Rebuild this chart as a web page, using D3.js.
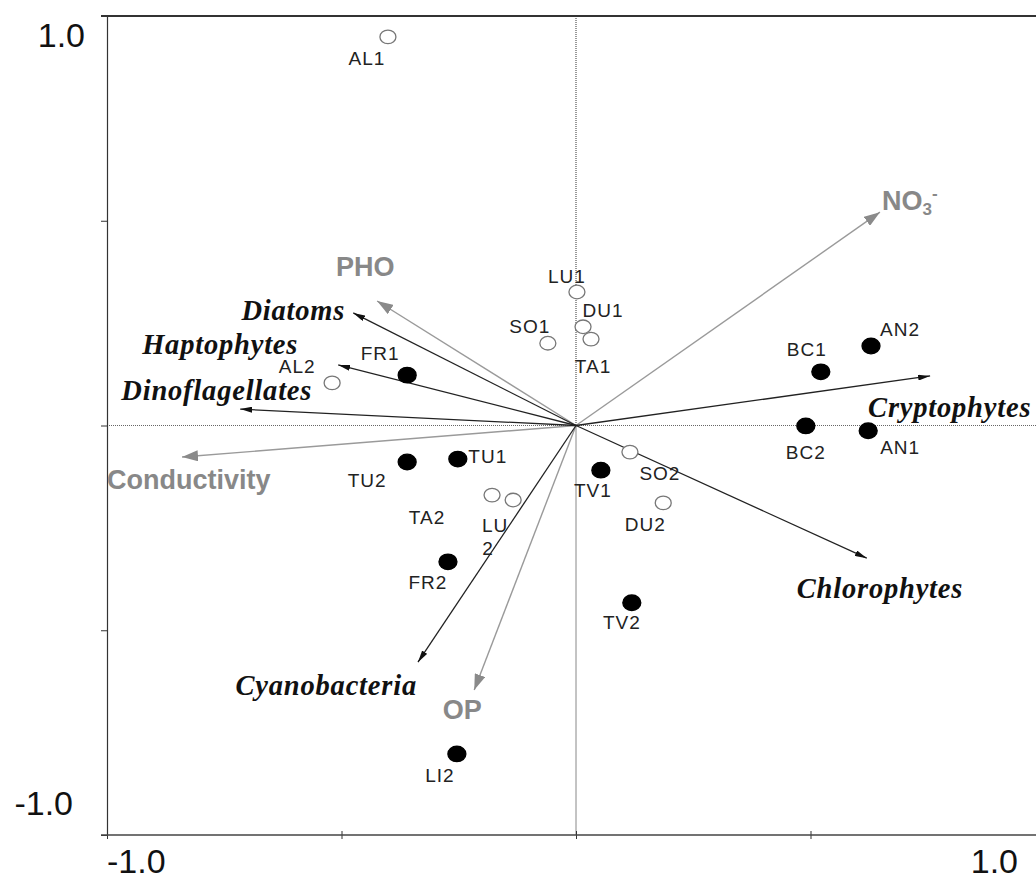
<!DOCTYPE html>
<html>
<head>
<meta charset="utf-8">
<script src="https://cdn.jsdelivr.net/npm/d3@7"></script>
<style>
  body { margin: 0; background: #fff; }
  svg { display: block; }
  .site { font-family: "Liberation Sans", Arial, sans-serif; font-size: 19px; letter-spacing: 1px; fill: #222; }
  .species { font-family: "Liberation Serif", "Times New Roman", serif; font-size: 28.5px; font-weight: bold; font-style: italic; letter-spacing: 0.8px; fill: #111; }
  .env { font-family: "Liberation Sans", Arial, sans-serif; font-size: 27px; font-weight: bold; fill: #888; }
  .tick { font-family: "Liberation Sans", Arial, sans-serif; font-size: 34px; fill: #111; }
</style>
</head>
<body>
<div id="chart"></div>
<script>
// site scores
const siteNames = ["AL1", "LU1", "DU1", "TA1", "SO1", "FR1", "AL2", "BC1", "AN2", "BC2", "AN1",
                   "TU2", "TU1", "TA2", "LU2", "FR2", "TV1", "SO2", "DU2", "TV2", "LI2"];
const siteX = [-0.401, 0.002, 0.015, 0.032, -0.060, -0.360, -0.520, 0.522, 0.629, 0.490, 0.623,
               -0.360, -0.252, -0.179, -0.134, -0.273, 0.053, 0.115, 0.186, 0.119, -0.254];
const siteY = [0.949, 0.326, 0.241, 0.211, 0.201, 0.123, 0.104, 0.131, 0.194, -0.001, -0.013,
               -0.089, -0.082, -0.170, -0.182, -0.333, -0.109, -0.065, -0.189, -0.433, -0.802];
const siteOpen = [true, true, true, true, true, false, true, false, false, false, false,
                  false, false, true, true, false, false, true, true, false, false];

// species arrows
const speciesNames = ["Diatoms", "Haptophytes", "Dinoflagellates", "Cryptophytes", "Chlorophytes", "Cyanobacteria"];
const speciesX = [-0.475, -0.507, -0.716, 0.755, 0.620, -0.337];
const speciesY = [0.275, 0.148, 0.040, 0.121, -0.324, -0.578];

// environmental arrows
const envNames = ["PHO", "NO3", "Conductivity", "OP"];
const envX = [-0.424, 0.648, -0.840, -0.217];
const envY = [0.304, 0.521, -0.077, -0.646];

const xTicks = [-1, -0.5, 0, 0.5, 1];
const yTicks = [-1, -0.5, 0, 0.5, 1];

const W = 1036, H = 879;
const x = d3.scaleLinear().domain([-1, 1]).range([107, 1045]);
const y = d3.scaleLinear().domain([-1, 1]).range([835, 16]);

const svg = d3.select("#chart").append("svg").attr("width", W).attr("height", H);

const defs = svg.append("defs");
defs.append("marker").attr("id", "headBlack")
  .attr("markerUnits", "userSpaceOnUse").attr("viewBox", "0 0 12 6")
  .attr("markerWidth", 12).attr("markerHeight", 6).attr("refX", 12).attr("refY", 3)
  .attr("orient", "auto")
  .append("path").attr("d", "M0,0 L12,3 L0,6 Z").attr("fill", "#111");
defs.append("marker").attr("id", "headGrey")
  .attr("markerUnits", "userSpaceOnUse").attr("viewBox", "0 0 16 11")
  .attr("markerWidth", 16).attr("markerHeight", 11).attr("refX", 16).attr("refY", 5.5)
  .attr("orient", "auto")
  .append("path").attr("d", "M0,0 L16,5.5 L0,11 Z").attr("fill", "#8a8a8a");

// zero lines
svg.append("line").attr("x1", x(-1)).attr("x2", W).attr("y1", y(0)).attr("y2", y(0))
  .attr("stroke", "#666").attr("stroke-width", 1).attr("stroke-dasharray", "1,1");
svg.append("line").attr("x1", x(0)).attr("x2", x(0)).attr("y1", y(1)).attr("y2", y(0))
  .attr("stroke", "#333").attr("stroke-width", 1).attr("stroke-dasharray", "1,1");
svg.append("line").attr("x1", x(0)).attr("x2", x(0)).attr("y1", y(0)).attr("y2", y(-1))
  .attr("stroke", "#888").attr("stroke-width", 1);

// axes
const yAxis = d3.axisLeft(y).tickValues(yTicks).tickSize(6).tickFormat("");
svg.append("g").attr("transform", `translate(${x(-1)},0)`).call(yAxis)
  .call(g => g.select(".domain").attr("stroke", "#333").attr("stroke-width", 1.2))
  .call(g => g.selectAll(".tick line").attr("stroke", "#333"));
const xAxis = d3.axisBottom(x).tickValues(xTicks).tickSize(4).tickFormat("");
svg.append("g").attr("transform", `translate(0,${y(-1)})`).call(xAxis)
  .call(g => g.select(".domain").remove())
  .call(g => g.selectAll(".tick line").attr("y1", -4).attr("stroke", "#333"));
svg.append("line").attr("x1", x(-1) - 6).attr("x2", W).attr("y1", y(-1)).attr("y2", y(-1))
  .attr("stroke", "#444").attr("stroke-width", 1.5);
svg.append("line").attr("x1", x(-1) - 6).attr("x2", W).attr("y1", y(1)).attr("y2", y(1))
  .attr("stroke", "#333").attr("stroke-width", 2);

// tick labels
svg.append("text").attr("class", "tick").attr("x", 85).attr("y", y(1) + 19)
  .attr("dy", "0.35em").attr("text-anchor", "end").text("1.0");
svg.append("text").attr("class", "tick").attr("x", 73).attr("y", y(-1) - 32)
  .attr("dy", "0.35em").attr("text-anchor", "end").text("-1.0");
svg.append("text").attr("class", "tick").attr("x", x(-1)).attr("y", 861)
  .attr("dy", "0.35em").attr("text-anchor", "start").text("-1.0");
svg.append("text").attr("class", "tick").attr("x", x(1) - 27).attr("y", 861)
  .attr("dy", "0.35em").attr("text-anchor", "end").text("1.0");

// environmental arrows
const envLabel = {
  "PHO": { dx: -12, dy: -34, anchor: "middle" },
  "NO3": { dx: 2, dy: -12, anchor: "start" },
  "Conductivity": { dx: -75, dy: 23, anchor: "start" },
  "OP": { dx: -12, dy: 20, anchor: "middle" }
};
envNames.forEach((n, i) => {
  svg.append("line").attr("x1", x(0)).attr("y1", y(0)).attr("x2", x(envX[i])).attr("y2", y(envY[i]))
    .attr("stroke", "#9a9a9a").attr("stroke-width", 1.4).attr("marker-end", "url(#headGrey)");
  const o = envLabel[n];
  const t = svg.append("text").attr("class", "env").attr("text-anchor", o.anchor)
    .attr("x", x(envX[i]) + o.dx).attr("y", y(envY[i]) + o.dy).attr("dy", "0.35em");
  if (n === "NO3") {
    t.append("tspan").text("NO");
    t.append("tspan").attr("font-size", "17px").attr("dy", "0.3em").text("3");
    t.append("tspan").attr("font-size", "17px").attr("dy", "-0.9em").text("-");
  } else {
    t.text(n);
  }
});

// species arrows
const speciesLabel = {
  "Diatoms": { dx: -8, dy: -3, anchor: "end" },
  "Haptophytes": { dx: -40, dy: -21, anchor: "end" },
  "Dinoflagellates": { dx: 72, dy: -19, anchor: "end" },
  "Cryptophytes": { dx: -62, dy: 31, anchor: "start" },
  "Chlorophytes": { dx: -70, dy: 30, anchor: "start" },
  "Cyanobacteria": { dx: -1, dy: 23, anchor: "end" }
};
speciesNames.forEach((n, i) => {
  svg.append("line").attr("x1", x(0)).attr("y1", y(0)).attr("x2", x(speciesX[i])).attr("y2", y(speciesY[i]))
    .attr("stroke", "#222").attr("stroke-width", 1.3).attr("marker-end", "url(#headBlack)");
  const o = speciesLabel[n];
  svg.append("text").attr("class", "species").attr("text-anchor", o.anchor)
    .attr("x", x(speciesX[i]) + o.dx).attr("y", y(speciesY[i]) + o.dy).attr("dy", "0.35em")
    .text(n);
});

// sites
const siteLabel = {
  AL1: [-21, 21], LU1: [-10, -16], DU1: [20, -16], TA1: [2, 27], SO1: [-18, -17],
  FR1: [-27, -22], AL2: [-35, -17], BC1: [-14, -23], AN2: [29, -17], BC2: [0, 26],
  AN1: [32, 17], TU2: [-40, 18], TU1: [30, -3], TA2: [-65, 22], LU2: [-18, 25],
  FR2: [-20, 20], TV1: [-8, 20], SO2: [30, 21], DU2: [-18, 21], TV2: [-10, 20], LI2: [-17, 21]
};
const sites = siteNames.map((n, i) => ({ name: n, x: siteX[i], y: siteY[i], open: siteOpen[i] }));
svg.selectAll("ellipse.pt").data(sites).enter().append("ellipse").attr("class", "pt")
  .attr("cx", d => x(d.x)).attr("cy", d => y(d.y))
  .attr("rx", d => d.open ? 8 : 9).attr("ry", d => d.open ? 6.8 : 7.8)
  .attr("fill", d => d.open ? "#fff" : "#000")
  .attr("stroke", d => d.open ? "#777" : "#000").attr("stroke-width", 1.3);

sites.forEach(d => {
  const o = siteLabel[d.name];
  const t = svg.append("text").attr("class", "site").attr("text-anchor", "middle")
    .attr("x", x(d.x) + o[0]).attr("y", y(d.y) + o[1]).attr("dy", "0.35em");
  if (d.name === "LU2") {
    t.text("LU");
    svg.append("text").attr("class", "site").attr("text-anchor", "middle")
      .attr("x", x(d.x) + o[0] - 7).attr("y", y(d.y) + o[1] + 23).attr("dy", "0.35em").text("2");
  } else {
    t.text(d.name);
  }
});
</script>
</body>
</html>
